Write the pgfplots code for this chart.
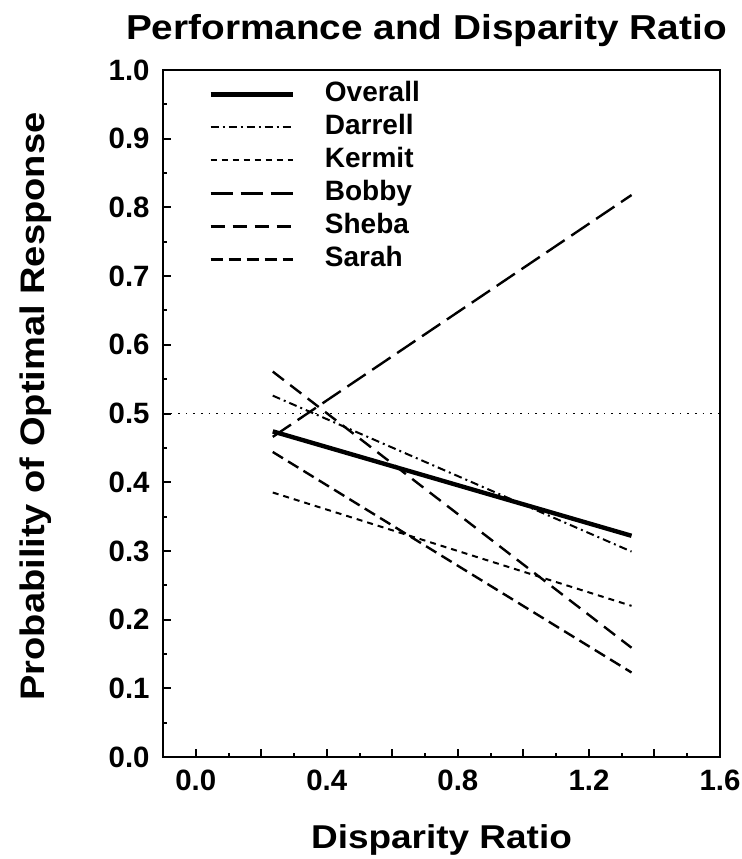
\documentclass[border=0pt]{standalone}
\usepackage{fontspec}
\setmainfont{Liberation Sans}
\usepackage{graphicx}
\usepackage{pgfplots}
\pgfplotsset{compat=1.18}

\begin{document}
\begin{tikzpicture}
\begin{axis}[
    name=ax,
    scale only axis,
    width=278.5pt, height=343.5pt,
    xmin=-0.1, xmax=1.6, ymin=0, ymax=1,
    axis line style={line width=1.2pt},
    tick align=inside, tick pos=left,
    major tick length=4pt, minor tick length=2pt,
    every tick/.style={line width=1pt, black},
    xtick={0,0.2,0.4,0.6,0.8,1.0,1.2,1.4,1.6},
    xticklabels={0.0,,0.4,,0.8,,1.2,,1.6},
    minor xtick={0.1,0.3,0.5,0.7,0.9,1.1,1.3,1.5},
    ytick={0,0.1,0.2,0.3,0.4,0.5,0.6,0.7,0.8,0.9,1.0},
    yticklabels={0.0,0.1,0.2,0.3,0.4,0.5,0.6,0.7,0.8,0.9,1.0},
    minor ytick={0.05,0.15,0.25,0.35,0.45,0.55,0.65,0.75,0.85,0.95},
    /pgf/number format/assume math mode=true,
    tick label style={font=\bfseries\fontsize{14.7}{17}\selectfont},
    xticklabel style={anchor=north, inner sep=0pt, yshift=-6.5pt},
    yticklabel style={anchor=east, inner sep=0pt, xshift=-6.5pt},
    every axis title shift=0pt,
    title={\scalebox{1.12}[1]{Performance and Disparity Ratio}},
    title style={at={(axis description cs:0.473,1.045)}, anchor=base,
        inner sep=0pt, font=\bfseries\fontsize{17.3}{20}\selectfont},
    xlabel={\scalebox{1.12}[1]{Disparity Ratio}},
    xlabel style={at={(axis description cs:0.5,-0.1325)}, anchor=base,
        inner sep=0pt, font=\bfseries\fontsize{16.5}{19}\selectfont},
    ylabel={\scalebox{1.12}[1]{Probability of Optimal Response}},
    ylabel style={at={(axis description cs:-0.212,0.51)}, anchor=base,
        inner sep=0pt, font=\bfseries\fontsize{17}{20}\selectfont},
    legend style={draw=none, fill=none, inner sep=0pt,
        at={(axis description cs:0.081,0.984)}, anchor=north west,
        font=\bfseries\fontsize{14}{16}\selectfont,
        nodes={inner sep=0pt, text height=10pt, text depth=3pt},
        row sep=3.5pt, column sep=15pt},
    legend cell align=left,
    legend image code/.code={\draw[#1] (0pt,0pt) -- (41pt,0pt);},
]
% reference line at chance level
\addplot[black, line width=0.8pt, dash pattern=on 0.8pt off 3pt, forget plot]
    coordinates {(-0.1,0.5) (1.6,0.5)};

\addplot[black, line width=2.2pt] coordinates {(0.235,0.474) (1.33,0.322)};
\addlegendentry{Overall}
\addplot[black, line width=1pt, dash pattern=on 4pt off 2pt on 1pt off 2pt]
    coordinates {(0.235,0.526) (1.33,0.299)};
\addlegendentry{Darrell}
\addplot[black, line width=1pt, dash pattern=on 3pt off 2.5pt]
    coordinates {(0.235,0.385) (1.33,0.220)};
\addlegendentry{Kermit}
\addplot[black, line width=1.2pt, dash pattern=on 11pt off 4pt]
    coordinates {(0.235,0.466) (1.33,0.818)};
\addlegendentry{Bobby}
\addplot[black, line width=1.2pt, dash pattern=on 7pt off 4pt]
    coordinates {(0.235,0.561) (1.33,0.159)};
\addlegendentry{Sheba}
\addplot[black, line width=1.2pt, dash pattern=on 6pt off 3pt]
    coordinates {(0.235,0.444) (1.33,0.123)};
\addlegendentry{Sarah}
\end{axis}
\pgfresetboundingbox
\path ([xshift=-81.5pt,yshift=-51pt]ax.south west) rectangle ([xshift=11pt,yshift=35pt]ax.north east);
\end{tikzpicture}
\end{document}
